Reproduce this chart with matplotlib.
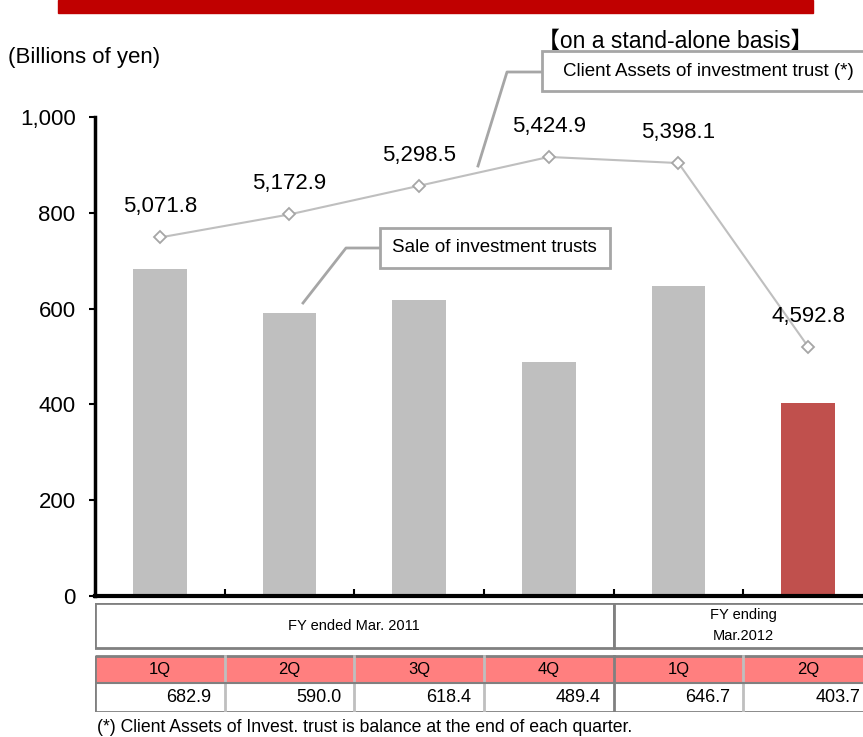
import matplotlib
matplotlib.use('Agg')
import matplotlib.pyplot as plt
from matplotlib.patches import Rectangle
from matplotlib.lines import Line2D
from matplotlib.ticker import FuncFormatter

# quarterly figures, billions of yen
quarters = ['1Q', '2Q', '3Q', '4Q', '1Q', '2Q']
sales = [682.9, 590.0, 618.4, 489.4, 646.7, 403.7]
client_assets = [5071.8, 5172.9, 5298.5, 5424.9, 5398.1, 4592.8]
fy_groups = [('FY ended Mar. 2011', 0, 4), ('FY ending\nMar.2012', 4, 6)]
y_ticks = [0, 200, 400, 600, 800, 1000]

W, H = 863, 737
plt.rcParams['font.family'] = ['Liberation Sans', 'DejaVu Sans']
fig = plt.figure(figsize=(W / 100, H / 100), dpi=100)


def fx(px):
    return px / W


def fy(py):
    return 1 - py / H


GRAY = '#BFBFBF'
EDGE = '#A6A6A6'
RED = '#C0504D'

# header stripe and captions
fig.patches.append(Rectangle((fx(58), fy(13)), fx(813) - fx(58), fy(0) - fy(13),
                             transform=fig.transFigure, color='#C00000', zorder=0))
fig.text(fx(675), fy(41), '【on a stand-alone basis】', ha='center', va='center',
         fontsize=16.5, family=['Liberation Sans', 'Noto Sans CJK JP'])
fig.text(fx(8), fy(57), '(Billions of yen)', ha='left', va='center', fontsize=16)

# main chart area
left, right, top, bottom = 95, 873, 117, 596
ax = fig.add_axes([fx(left), fy(bottom), fx(right) - fx(left), fy(top) - fy(bottom)])
x = list(range(len(sales)))
colors = [GRAY] * (len(sales) - 1) + [RED]
ax.bar(x, sales, width=0.415, color=colors, zorder=2)
ax.set_xlim(-0.5, len(sales) - 0.5)
ax.set_ylim(0, 1000)
ax.set_yticks(y_ticks)
ax.yaxis.set_major_formatter(FuncFormatter(lambda v, p: f'{v:,.0f}'))
ax.tick_params(axis='y', direction='out', length=4, width=1.5, pad=10, labelsize=16)
ax.set_xticks([i + 0.5 for i in range(len(sales) - 1)])
ax.set_xticklabels([])
ax.tick_params(axis='x', direction='in', length=5, width=1.5)
for s in ['top', 'right']:
    ax.spines[s].set_visible(False)
ax.spines['left'].set_linewidth(2.5)
ax.spines['bottom'].set_linewidth(3)
ax.patch.set_alpha(0)

# client assets on a hidden secondary scale
ax2 = ax.twinx()
ax2.set_ylim(3500, 5600)
ax2.axis('off')
ax2.plot(x, client_assets, color=GRAY, lw=1.5, marker='D', ms=6,
         mfc='white', mec=EDGE, mew=1.3, zorder=3)
for xi, v in zip(x, client_assets):
    ax2.annotate(f'{v:,.1f}', (xi, v), xytext=(0, 22), textcoords='offset points',
                 ha='center', va='center', fontsize=16)


# callout boxes
def callout(x0, y0, x1, y1, text, leader, pad):
    fig.patches.append(Rectangle((fx(x0), fy(y1)), fx(x1) - fx(x0), fy(y0) - fy(y1),
                                 transform=fig.transFigure, fc='white', ec=EDGE,
                                 lw=2, zorder=5))
    fig.text(fx(x0 + pad), fy((y0 + y1) / 2), text, ha='left', va='center',
             fontsize=13.5, zorder=6)
    xs, ys = zip(*leader)
    fig.lines.append(Line2D([fx(p) for p in xs], [fy(p) for p in ys],
                            transform=fig.transFigure, color=EDGE, lw=2, zorder=5))


callout(542, 51, 880, 91, 'Client Assets of investment trust (*)',
        [(542, 72), (507, 72), (478, 166)], 21)
callout(380, 228, 610, 268, 'Sale of investment trusts',
        [(380, 248), (346, 248), (303, 303)], 12)

# data table under the axis
tab = fig.add_axes([fx(left), fy(712), fx(right) - fx(left), fy(603) - fy(712)])
tab.set_xlim(-0.5, len(sales) - 0.5)
tab.set_ylim(712, 603)
tab.axis('off')
DARK = '#808080'
# fiscal year row
for label, a, b in fy_groups:
    tab.add_patch(Rectangle((a - 0.5, 603), b - a, 45, fc='white', ec=DARK, lw=2))
    tab.text((a + b - 1) / 2, 625.5, label, ha='center', va='center', fontsize=10.5,
             linespacing=1.6, family=['Liberation Sans Narrow', 'Liberation Sans'])
# quarter and value rows
for i, (q, v) in enumerate(zip(quarters, sales)):
    tab.add_patch(Rectangle((i - 0.5, 656), 1, 27, fc='#FF7F7F', ec='none'))
    tab.text(i, 669.5, q, ha='center', va='center', fontsize=12)
    tab.text(i + 0.4, 697.5, f'{v:.1f}', ha='right', va='center', fontsize=13)
for i in range(1, len(sales)):
    c = DARK if i == 4 else GRAY
    tab.plot([i - 0.5, i - 0.5], [656, 712], color=c, lw=2)
tab.add_patch(Rectangle((-0.5, 656), len(sales), 56, fc='none', ec=DARK, lw=2))
tab.plot([-0.5, len(sales) - 0.5], [683, 683], color=DARK, lw=1.5)

fig.text(fx(97), fy(727), '(*) Client Assets of Invest. trust is balance at the end of each quarter.',
         ha='left', va='center', fontsize=12.7)

fig.savefig('out.png', dpi=100)
